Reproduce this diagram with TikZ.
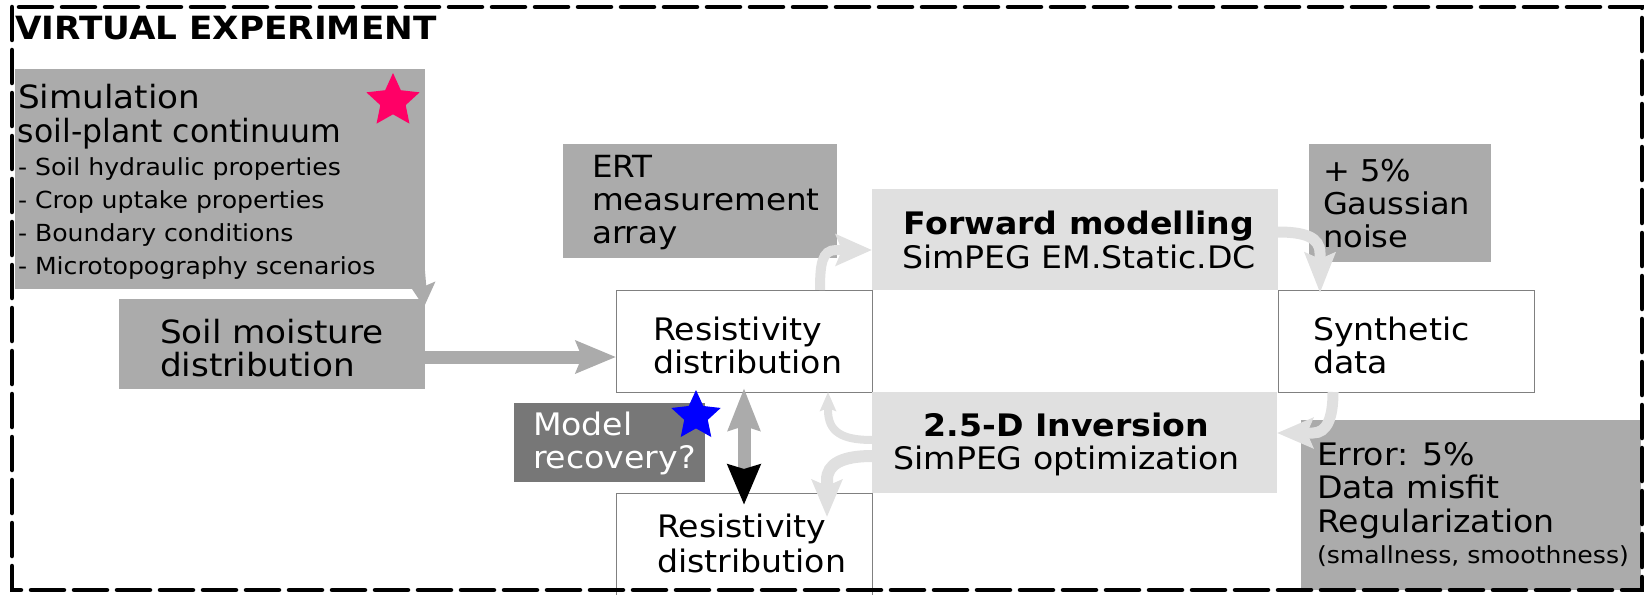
\documentclass[tikz,border=0pt]{standalone}
\usepackage{fontspec}
\usepackage{graphicx}
\setmainfont{DejaVu Sans}[FakeStretch=1.07]
\usetikzlibrary{arrows.meta,shapes.geometric,calc}
\definecolor{boxgray}{HTML}{ABABAB}
\definecolor{lightbox}{HTML}{E0E0E0}
\definecolor{darkbox}{HTML}{777777}
\definecolor{starpink}{HTML}{FF0066}
\definecolor{starblue}{HTML}{0000FF}
\definecolor{edgegray}{HTML}{808080}
\newcommand\myfs[2]{\fontsize{#1}{#2}\selectfont\spaceskip=0pt\xspaceskip=0pt\relax}
\newcommand\mycenter[1]{\leftskip=0pt plus 1fil\rightskip=#1 plus 1fil\parfillskip=0pt\relax}
\begin{document}
\begin{tikzpicture}[x=1pt,y=-1pt,
  box/.style={inner sep=0pt, outer sep=0pt, anchor=north west, align=left},
  gbox/.style={box, fill=boxgray},
  lbox/.style={box, fill=lightbox},
  wbox/.style={box, fill=white, draw=edgegray, line width=1pt},
  dbox/.style={box, fill=darkbox, text=white},
  bigarrow/.style={draw=boxgray, line width=13pt, -{Stealth[length=40pt, width=32pt, inset=6pt]}},
  larrow/.style={draw=lightbox, line width=11pt, -{Stealth[length=37pt, width=30pt, inset=6pt]}},
  sarrow/.style={draw=lightbox, line width=8pt, -{Stealth[length=19pt, width=16pt, inset=3pt]}},
  starshape/.style={star, star points=5, star point ratio=2.1, inner sep=0pt, draw=none}
]
\useasboundingbox (0,0) rectangle (1648,594);

% boxes
\node[gbox, text width=410pt, text height=39pt, text depth=181pt] (sim) at (15,69)
  {\myfs{32}{34}\leftskip=3pt Simulation\\\scalebox{0.92}[1]{soil-plant continuum}\par
   \myfs{23.5}{33}- Soil hydraulic properties\\- Crop uptake properties\\- Boundary conditions\\- Microtopography scenarios\par};
\node[gbox, text width=306pt, text height=44pt, text depth=46pt] (soil) at (119,299)
  {\myfs{32}{33}\leftskip=41pt Soil moisture\\distribution\par};
\node[gbox, text width=274pt, text height=33pt, text depth=81pt] (ert) at (563,144)
  {\myfs{30.5}{33}\leftskip=29pt ERT\\measurement\\array\par};
\node[lbox, text width=406pt, text height=45pt, text depth=56pt] (fwd) at (872,189)
  {\myfs{31}{34}\mycenter{-8pt}\textbf{Forward modelling}\\SimPEG EM.Static.DC\par};
\node[gbox, text width=182pt, text height=37pt, text depth=81pt] (noise) at (1309,144)
  {\myfs{30}{33}\leftskip=14pt + 5\%\\Gaussian\\noise\par};
\node[wbox, text width=256pt, text height=50pt, text depth=52pt] (res1) at (616,290)
  {\myfs{31}{33}\leftskip=37pt Resistivity\\distribution\par};
\node[wbox, text width=256pt, text height=50pt, text depth=52pt] (syn) at (1278,290)
  {\myfs{31}{33}\leftskip=35pt Synthetic\\data\par};
\node[lbox, text width=405pt, text height=44pt, text depth=57pt] (inv) at (872,392)
  {\myfs{31}{33}\mycenter{16pt}\textbf{2.5-D Inversion}\\SimPEG optimization\par};
\node[dbox, text width=191pt, text height=32pt, text depth=47pt] (mr) at (514,403)
  {\myfs{31}{33}\leftskip=19pt Model\\recovery?\par};
\node[wbox, text width=256pt, text height=44pt, text depth=66pt] (res2) at (616,493)
  {\myfs{31}{35}\leftskip=41pt Resistivity\\distribution\par};
\node[gbox, text width=340pt, text height=45pt, text depth=125pt] (err) at (1301,420)
  {\myfs{31}{33.5}\leftskip=16pt Error: 5\%\\Data misfit\\Regularization\par
   \myfs{23.5}{31}(smallness, smoothness)\par};

% gray arrows
\draw[draw=boxgray, line width=8pt, -{Stealth[length=24pt, width=26pt, inset=4pt]}]
  ($(sim.south east)+(-5,-30)$) -- ($(soil.north east)+(-1,8)$);
\coordinate (a0) at ($(soil.east)+(0,13)$);
\draw[bigarrow] (a0) -- (a0 -| res1.west);

% double arrow between resistivity distributions
\draw[draw=boxgray, line width=13pt,
  {Stealth[length=42pt, width=31pt, inset=4pt]}-{Stealth[length=40pt, width=32pt, inset=4pt, color=black, fill=black]},
  shorten <=-4pt, shorten >=-12pt] (res1.south) -- (res2.north);

% light curved arrows
\coordinate (b1) at ($(res1.north)+(76,0)$);
\coordinate (b2) at ($(fwd.west)+(0,10.5)$);
\draw[larrow, line width=10pt, -{Stealth[length=36pt, width=31pt, inset=6pt]}]
  (b1) .. controls +(0,-26) and +(-14,0) .. ($(b2)+(-36,0)$) -- (b2);

\coordinate (c1) at ($(fwd.east)+(0,-7.5)$);
\coordinate (c2) at ($(syn.north)+(-86,3)$);
\draw[larrow, -{Stealth[length=40pt, width=30pt, inset=6pt]}]
  (c1) .. controls +(26,0) and +(0,-16) .. ($(c2)+(0,-40)$) -- (c2);

\coordinate (d1) at ($(syn.south)+(-73,0)$);
\coordinate (d2) at ($(inv.east)+(0,-9.5)$);
\draw[larrow, -{Stealth[length=36pt, width=30pt, inset=6pt]}]
  (d1) .. controls +(0,26) and +(14,0) .. ($(d2)+(36,0)$) -- (d2);

\coordinate (e1) at ($(inv.west)+(0,-2.5)$);
\coordinate (e2) at ($(res1.south)+(84,0)$);
\draw[sarrow]
  (e1) .. controls +(-30,0) and +(0,22) .. ($(e2)+(0,18)$) -- (e2);

\coordinate (f1) at ($(inv.west)+(0,13.5)$);
\coordinate (f2) at ($(res2.north)+(83,24)$);
\draw[larrow, line width=12pt, -{Stealth[length=37pt, width=30pt, inset=6pt]}]
  (f1) .. controls +(-30,0) and +(0,-16) .. ($(f2)+(0,-37)$) -- (f2);

% stars
\node[starshape, fill=starpink, minimum size=56pt] (pstar) at (393,101) {};
\node[starshape, fill=starblue, minimum size=52pt] (bstar) at (696,416) {};

% title and frame
\node[anchor=base west, inner sep=0pt, font=\myfs{32}{38}\bfseries] (title) at (15,40) {VIRTUAL EXPERIMENT};
\draw[line width=4.5pt, line cap=round, dash pattern=on 33pt off 10pt] (12,7) rectangle (1642,590);
\end{tikzpicture}
\end{document}
